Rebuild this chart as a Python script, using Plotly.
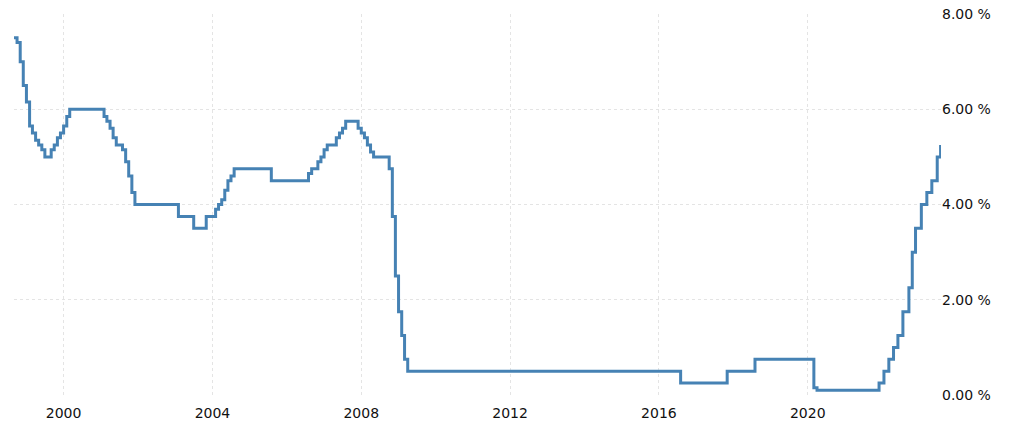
import plotly.graph_objects as go

# Dates from which each rate value applies (step series)
change_dates = [
    "1998-09-01", "1998-10-01", "1998-11-01", "1998-12-01", "1999-01-01", "1999-02-01",
    "1999-03-01", "1999-04-01", "1999-05-01", "1999-06-01", "1999-07-01", "1999-09-01",
    "1999-10-01", "1999-11-01", "1999-12-01", "2000-01-01", "2000-02-01", "2000-03-01",
    "2001-02-01", "2001-03-01", "2001-04-01", "2001-05-01", "2001-06-01", "2001-08-01",
    "2001-09-01", "2001-10-01", "2001-11-01", "2001-12-01", "2003-02-01", "2003-07-01",
    "2003-11-01", "2004-02-01", "2004-03-01", "2004-04-01", "2004-05-01", "2004-06-01",
    "2004-07-01", "2004-08-01", "2005-08-01", "2006-08-01", "2006-09-01", "2006-11-01",
    "2006-12-01", "2007-01-01", "2007-02-01", "2007-05-01", "2007-06-01", "2007-07-01",
    "2007-08-01", "2007-12-01", "2008-01-01", "2008-02-01", "2008-03-01", "2008-04-01",
    "2008-05-01", "2008-10-01", "2008-11-01", "2008-12-01", "2009-01-01", "2009-02-01",
    "2009-03-01", "2009-04-01", "2016-08-01", "2017-11-01", "2018-08-01", "2020-03-01",
    "2020-04-01", "2021-12-01", "2022-01-18", "2022-03-07", "2022-04-22", "2022-06-04",
    "2022-07-23", "2022-09-20", "2022-10-23", "2022-11-24", "2023-01-20", "2023-03-15",
    "2023-05-03", "2023-06-25", "2023-07-28",
]
rates = [
    7.50, 7.40, 7.00, 6.50, 6.15, 5.65,
    5.50, 5.35, 5.25, 5.15, 5.00, 5.15,
    5.25, 5.40, 5.50, 5.65, 5.85, 6.00,
    5.85, 5.75, 5.60, 5.40, 5.25, 5.15,
    4.90, 4.60, 4.25, 4.00, 3.75, 3.50,
    3.75, 3.90, 4.00, 4.10, 4.30, 4.50,
    4.60, 4.75, 4.50, 4.65, 4.75, 4.90,
    5.00, 5.15, 5.25, 5.40, 5.50, 5.60,
    5.75, 5.60, 5.50, 5.40, 5.25, 5.10,
    5.00, 4.75, 3.75, 2.50, 1.75, 1.25,
    0.75, 0.50, 0.25, 0.50, 0.75, 0.15,
    0.10, 0.25, 0.50, 0.75, 1.00, 1.25,
    1.75, 2.25, 3.00, 3.50, 4.00, 4.25,
    4.50, 5.00, 5.25,
]

x_range = ["1998-09-01", "2023-08-01"]
y_ticks = [0, 2, 4, 6, 8]
y_ticktext = [f"{v:.2f} %" for v in y_ticks]

fig = go.Figure()
fig.add_trace(go.Scatter(
    x=change_dates, y=rates, mode="lines", line_shape="hv",
    line=dict(color="#4682B4", width=3), hoverinfo="skip", showlegend=False,
))

font = dict(family="DejaVu Sans", size=14, color="#111111")
fig.update_layout(
    width=1024, height=438,
    margin=dict(l=14, r=83, t=14, b=43),
    paper_bgcolor="white", plot_bgcolor="white",
    font=font,
    xaxis=dict(
        type="date", range=x_range, tick0="2000-01-01", dtick="M48",
        tickformat="%Y", showgrid=True, gridcolor="#e4e4e4", griddash="dot",
        gridwidth=1, zeroline=False, showline=False, ticks="",
        ticklabelstandoff=8, tickfont=font, automargin=False,
    ),
    yaxis=dict(
        side="right", range=[0, 8], tickmode="array", tickvals=y_ticks,
        ticktext=y_ticktext, showgrid=True, gridcolor="#e4e4e4", griddash="dot",
        gridwidth=1, zeroline=False, showline=False, ticks="",
        ticklabelstandoff=0, tickfont=font, automargin=False,
    ),
)

fig.write_html(
    "out.html",
    config={"displayModeBar": False, "staticPlot": True},
    post_script="document.body.style.margin='0';",
)
